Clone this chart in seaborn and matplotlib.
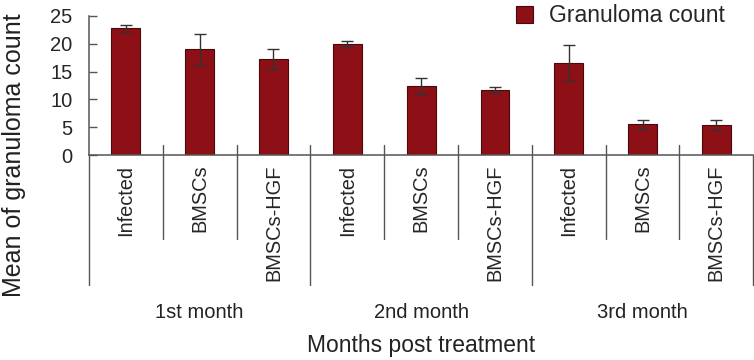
import matplotlib
matplotlib.use("Agg")
import numpy as np
import pandas as pd
import seaborn as sns
import matplotlib.pyplot as plt

# values
months = ["1st month", "2nd month", "3rd month"]
groups = ["Infected", "BMSCs", "BMSCs-HGF"]
mean_count = [22.8, 19.0, 17.3, 20.0, 12.4, 11.7, 16.6, 5.5, 5.4]
err_count = [0.6, 2.8, 1.75, 0.5, 1.5, 0.5, 3.2, 0.85, 0.9]

df = pd.DataFrame({
    "month": np.repeat(months, len(groups)),
    "group": groups * len(months),
    "mean": mean_count,
    "err": err_count,
})
df["key"] = df["month"] + "|" + df["group"]

sns.set_style("ticks")
plt.rcParams["font.family"] = ["Liberation Sans", "DejaVu Sans"]

axis_col = "#555555"
fig = plt.figure(figsize=(7.54, 3.6), dpi=100)
ax = fig.add_axes([0.118, 0.5694, 0.881, 0.3862])

sns.barplot(data=df, x="key", y="mean", color="#8c1016", width=0.39,
            edgecolor="#4a0808", linewidth=0.8, saturation=1,
            label="Granuloma count", ax=ax)

xs = np.arange(len(df))
ax.errorbar(xs, df["mean"], yerr=df["err"], fmt="none", ecolor="#333333",
            elinewidth=1.0, capsize=4, capthick=1.0)

ax.set_xlim(-0.5, len(df) - 0.5)
ax.set_ylim(0, 25)
ax.set_yticks([0, 5, 10, 15, 20, 25])
ax.tick_params(axis="y", direction="in", length=6, width=1, color=axis_col,
               labelsize=14.5, pad=12)
ax.tick_params(axis="x", length=0, pad=7)
ax.set_xticks(xs)
ax.set_xticklabels(df["group"], rotation=90, va="top", fontsize=14.4)

for side in ["top", "right"]:
    ax.spines[side].set_visible(False)
for side in ["left", "bottom"]:
    ax.spines[side].set_color(axis_col)
    ax.spines[side].set_linewidth(1.1)

# separators below the axis
trans = ax.get_xaxis_transform()
for i in range(len(df) + 1):
    x = i - 0.5
    if i % len(groups) == 0:
        y0 = 0.0 if i in (0, len(df)) else 0.072
        ax.plot([x, x], [y0, -0.935], transform=trans, color=axis_col,
                lw=1.0, clip_on=False)
    else:
        ax.plot([x, x], [0.072, -0.604], transform=trans, color=axis_col,
                lw=1.0, clip_on=False)

for j, m in enumerate(months):
    ax.text(j * len(groups) + 1, -1.13, m, transform=trans, ha="center",
            va="center", fontsize=14.5, color="#222222")

ax.set_xlabel("")
ax.text(0.5, -1.37, "Months post treatment", transform=ax.transAxes,
        ha="center", va="center", fontsize=16.5, color="#222222")
ax.set_ylabel("Mean of granuloma count", fontsize=18, color="#222222")
ax.yaxis.set_label_coords(-0.113, 0.0)
ax.yaxis.label.set_va("center")

ax.legend(loc="upper left", bbox_to_anchor=(0.657, 1.045),
          bbox_transform=fig.transFigure, frameon=False, fontsize=16.5,
          handlelength=0.75, handleheight=0.75, handletextpad=0.7)

fig.savefig("out.png", dpi=100)
